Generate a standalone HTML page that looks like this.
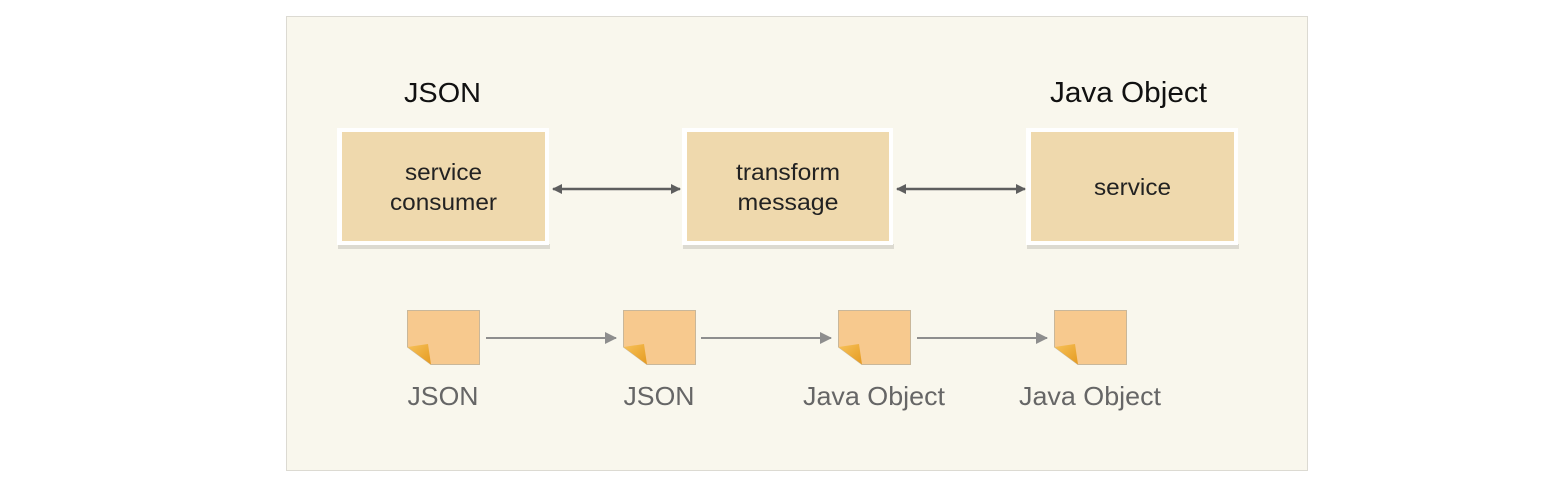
<!DOCTYPE html>
<html><head><meta charset="utf-8"><style>
html,body{margin:0;padding:0;background:#fff;width:1560px;height:492px;overflow:hidden}
svg{display:block}
text{font-family:"Liberation Sans",sans-serif}
</style></head><body>
<svg width="1560" height="492" viewBox="0 0 1560 492" xmlns="http://www.w3.org/2000/svg">
<defs>
<marker id="ah" markerWidth="10" markerHeight="10" refX="9" refY="5" orient="auto-start-reverse" markerUnits="userSpaceOnUse"><path d="M0,0 L10,5 L0,10 Z" fill="#5e5e5e"/></marker>
<marker id="ag" markerWidth="12" markerHeight="12" refX="11" refY="6" orient="auto" markerUnits="userSpaceOnUse"><path d="M0,0 L12,6 L0,12 Z" fill="#8e8e8e"/></marker>
<linearGradient id="fold" x1="0" y1="0" x2="1" y2="1"><stop offset="0" stop-color="#f7c25a"/><stop offset="1" stop-color="#e59a20"/></linearGradient>
</defs>
<rect x="286.5" y="16.5" width="1021" height="454" fill="#f9f7ed" stroke="#dcdad2"/>
<text x="404" y="102" font-size="28" fill="#111" textLength="77" lengthAdjust="spacingAndGlyphs">JSON</text>
<text x="1050" y="102" font-size="29" fill="#111" textLength="157" lengthAdjust="spacingAndGlyphs">Java Object</text>
<g>
<rect x="338" y="244" width="212" height="5" fill="#c8c6be" opacity="0.6"/>
<rect x="337" y="128" width="212" height="117" fill="#fff"/>
<rect x="342" y="132" width="203" height="109" fill="#efd9ad"/>
<text x="443.5" y="180" font-size="23" fill="#222" text-anchor="middle" textLength="77" lengthAdjust="spacingAndGlyphs">service</text>
<text x="443.5" y="210" font-size="23" fill="#222" text-anchor="middle" textLength="107" lengthAdjust="spacingAndGlyphs">consumer</text>
</g>
<g>
<rect x="683" y="244" width="211" height="5" fill="#c8c6be" opacity="0.6"/>
<rect x="682" y="128" width="211" height="117" fill="#fff"/>
<rect x="687" y="132" width="202" height="109" fill="#efd9ad"/>
<text x="788" y="180" font-size="23" fill="#222" text-anchor="middle" textLength="104" lengthAdjust="spacingAndGlyphs">transform</text>
<text x="788" y="210" font-size="23" fill="#222" text-anchor="middle" textLength="101" lengthAdjust="spacingAndGlyphs">message</text>
</g>
<g>
<rect x="1027" y="244" width="212" height="5" fill="#c8c6be" opacity="0.6"/>
<rect x="1026" y="128" width="212" height="117" fill="#fff"/>
<rect x="1031" y="132" width="203" height="109" fill="#efd9ad"/>
<text x="1132.5" y="195" font-size="23" fill="#222" text-anchor="middle" textLength="77" lengthAdjust="spacingAndGlyphs">service</text>
</g>
<line x1="553" y1="189" x2="680" y2="189" stroke="#5e5e5e" stroke-width="2.5" marker-start="url(#ah)" marker-end="url(#ah)"/>
<line x1="897" y1="189" x2="1025" y2="189" stroke="#5e5e5e" stroke-width="2.5" marker-start="url(#ah)" marker-end="url(#ah)"/>
<g id="n">
<path d="M407.5,310.5 H479.5 V364.5 H431 L407.5,347 Z" fill="#f7c98e" stroke="#c9b79a"/>
<path d="M407.5,347 L428,344 L431,364.5 Z" fill="url(#fold)"/>
</g>
<use href="#n" x="216"/>
<use href="#n" x="431"/>
<use href="#n" x="647"/>
<line x1="486" y1="338" x2="616" y2="338" stroke="#8e8e8e" stroke-width="2" marker-end="url(#ag)"/>
<line x1="701" y1="338" x2="831" y2="338" stroke="#8e8e8e" stroke-width="2" marker-end="url(#ag)"/>
<line x1="917" y1="338" x2="1047" y2="338" stroke="#8e8e8e" stroke-width="2" marker-end="url(#ag)"/>
<text x="443" y="405" font-size="26" fill="#666" text-anchor="middle" textLength="71" lengthAdjust="spacingAndGlyphs">JSON</text>
<text x="659" y="405" font-size="26" fill="#666" text-anchor="middle" textLength="71" lengthAdjust="spacingAndGlyphs">JSON</text>
<text x="874" y="405" font-size="26" fill="#666" text-anchor="middle" textLength="142" lengthAdjust="spacingAndGlyphs">Java Object</text>
<text x="1090" y="405" font-size="26" fill="#666" text-anchor="middle" textLength="142" lengthAdjust="spacingAndGlyphs">Java Object</text>
</svg>
</body></html>
